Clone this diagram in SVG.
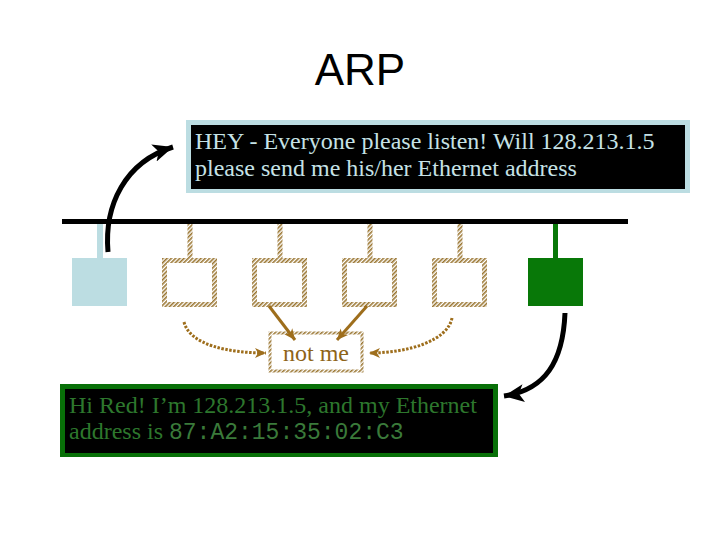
<svg xmlns="http://www.w3.org/2000/svg" width="720" height="540" viewBox="0 0 720 540">
<style>
.serif{font-family:"Liberation Serif","Times New Roman",serif;font-size:24px}
.mono{font-family:"Liberation Mono","Courier New",monospace;font-size:23px}
.hatchbox{fill:none;stroke:url(#hatch);stroke-width:5}
.blk{fill:none;stroke:#000;stroke-width:5}
.dot{fill:none;stroke:#9e6e1c;stroke-width:3;stroke-dasharray:2.5 1.5}
.brn{fill:none;stroke:#9e6e1c;stroke-width:3}
</style>
<defs>
<pattern id="hatch" width="3" height="3" patternUnits="userSpaceOnUse" patternTransform="rotate(45)">
<rect width="3" height="3" fill="#ffffff"/>
<rect width="1.6" height="3" fill="#9a7632"/>
</pattern>
<marker id="ab" markerUnits="userSpaceOnUse" markerWidth="22" markerHeight="22" viewBox="0 0 22 22" refX="20" refY="11" orient="auto">
<path d="M0,2 L20,11 L0,20 L5,11 Z" fill="#000"/>
</marker>
<marker id="ah" markerUnits="userSpaceOnUse" markerWidth="12" markerHeight="12" viewBox="0 0 12 12" refX="11" refY="6" orient="auto">
<path d="M0,1 L11,6 L0,11 L3,6 Z" fill="#9e6e1c"/>
</marker>
</defs>
<rect width="720" height="540" fill="#fff"/>
<text x="360" y="85" text-anchor="middle" font-family="Liberation Sans, Arial, sans-serif" font-size="44">ARP</text>

<g id="request">
<rect x="186" y="120" width="504" height="73" fill="#bcdde2"/>
<rect x="191" y="125" width="494" height="64" fill="#000"/>
<text class="serif" fill="#c6e2e6"><tspan x="195" y="149">HEY - Everyone please listen! Will 128.213.1.5</tspan><tspan x="195" y="176">please send me his/her Ethernet address</tspan></text>
</g>

<g id="bus"><rect x="62" y="219" width="566" height="5" fill="#000"/></g>

<g id="host-blue">
<rect x="97" y="224" width="6" height="34" fill="#bcdde2"/>
<rect x="72" y="258" width="55" height="48" fill="#bcdde2"/>
</g>
<g id="host-1">
<rect x="187.5" y="224" width="5" height="34" fill="url(#hatch)"/>
<rect class="hatchbox" x="164.5" y="260.5" width="50" height="44"/>
</g>
<g id="host-2">
<rect x="277.5" y="224" width="5" height="34" fill="url(#hatch)"/>
<rect class="hatchbox" x="254.5" y="260.5" width="50" height="44"/>
</g>
<g id="host-3">
<rect x="367.5" y="224" width="5" height="34" fill="url(#hatch)"/>
<rect class="hatchbox" x="344.5" y="260.5" width="50" height="44"/>
</g>
<g id="host-4">
<rect x="457.5" y="224" width="5" height="34" fill="url(#hatch)"/>
<rect class="hatchbox" x="434.5" y="260.5" width="50" height="44"/>
</g>
<g id="host-green">
<rect x="553" y="224" width="5" height="34" fill="#087808"/>
<rect x="528" y="258" width="55" height="48" fill="#087808"/>
</g>

<g id="notme">
<rect x="270" y="333" width="92" height="38" fill="#fff" stroke="url(#hatch)" stroke-width="3"/>
<text class="serif" x="316" y="361" text-anchor="middle" fill="#8e6418">not me</text>
</g>

<g id="reply">
<rect x="60" y="384" width="438" height="73" fill="#087008"/>
<rect x="65" y="389" width="428" height="64" fill="#000"/>
<text class="serif" fill="#2d772d"><tspan x="69" y="413">Hi Red! I’m 128.213.1.5, and my Ethernet</tspan><tspan x="69" y="439">address is <tspan class="mono" fill="#3a7a3a">87:A2:15:35:02:C3</tspan></tspan></text>
</g>

<g id="connectors">
<path class="blk" d="M108,252 C104,205 125,162 173,147" marker-end="url(#ab)"/>
<path class="blk" d="M565,313 C563,362 545,390 504,396" marker-end="url(#ab)"/>
<path class="dot" d="M184,322 C190,345 228,353 266,353" marker-end="url(#ah)"/>
<path class="dot" d="M452,318 C448,340 410,353 369,353" marker-end="url(#ah)"/>
<path class="brn" d="M269,306 L295,340" marker-end="url(#ah)"/>
<path class="brn" d="M367,306 L337,340" marker-end="url(#ah)"/>
</g>
</svg>
